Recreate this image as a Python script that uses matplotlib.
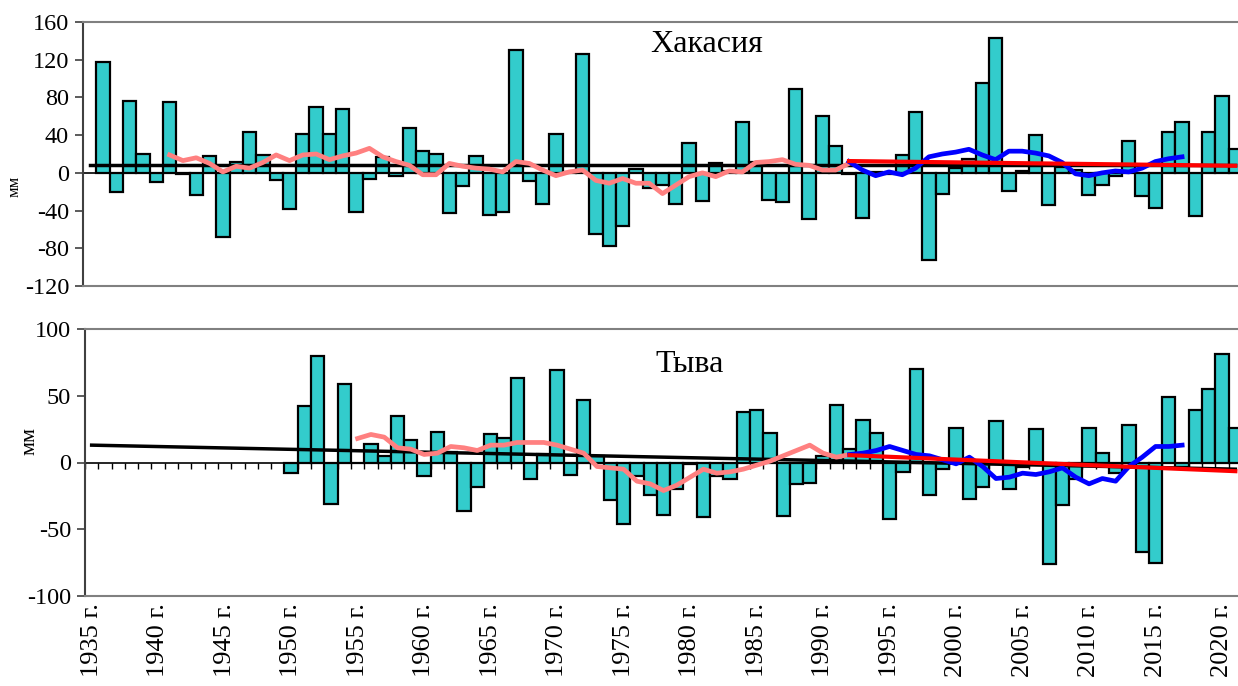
import numpy as np
import matplotlib
matplotlib.use("Agg")
from matplotlib import pyplot as plt

plt.rcParams['font.family'] = ['Liberation Serif', 'DejaVu Serif']
plt.rcParams['axes.unicode_minus'] = False

years = list(range(1935, 2022))

# precipitation anomalies, mm (Khakassia has no value for 1935)
khakasia = [np.nan,
            118, -20, 76, 20, -10, 75, -1, -24, 18, -68,
            11, 43, 19, -8, -38, 41, 70, 41, 68, -42,
            -7, 17, -3, 48, 23, 20, -43, -14, 18, -45,
            -42, 130, -9, -33, 41, 1, 126, -65, -78, -56,
            4, -16, -13, -33, 32, -30, 10, 2, 54, 12,
            -29, -31, 89, -49, 60, 28, -1, -48, 1, -1,
            19, 65, -92, -22, 5, 15, 95, 143, -19, 2,
            40, -34, 6, 3, -23, -13, -3, 34, -25, -37,
            43, 54, -46, 43, 81, 25]

# Tuva record starts in 1950
tuva = [np.nan] * 15 + [
    -8, 42, 80, -31, 59, 0, 14, 5, 35, 17,
    -10, 23, 8, -36, -18, 21, 18, 63, -12, 6,
    69, -9, 47, 5, -28, -46, -10, -24, -39, -20,
    -1, -41, -10, -12, 38, 39, 22, -40, -16, -15,
    5, 43, 10, 32, 22, -42, -7, 70, -24, -5,
    26, -27, -18, 31, -20, -3, 25, -76, -32, -12,
    26, 7, -8, 28, -67, -75, 49, -3, 39, 55,
    81, 26]

# moving averages for the first period (pink)
khak_ma_years = list(range(1941, 1993))
khak_ma = [19, 13, 16, 10, 1, 7, 5, 11, 19, 13,
           19, 20, 14, 18, 21, 26, 17, 12, 8, -2,
           -2, 10, 7, 5, 4, 1, 12, 10, 3, -3,
           1, 3, -8, -11, -6, -11, -11, -22, -13, -4,
           0, -4, 2, 1, 11, 12, 14, 9, 8, 3,
           3, 10]
tuva_ma_years = list(range(1955, 1993))
tuva_ma = [18, 21, 19, 11, 10, 6, 7, 12, 11, 9,
           13, 13, 15, 15, 15, 13, 10, 7, -3, -4,
           -5, -14, -16, -21, -17, -11, -5, -8, -7, -5,
           -2, 1, 5, 9, 13, 7, 4, 6]

# moving averages for the recent period (blue)
recent_years = list(range(1992, 2018))
khak_recent = [12, 3, -3, 1, -2, 5, 17, 20, 22, 25,
               19, 14, 23, 23, 21, 18, 11, -1, -3, 0,
               2, 1, 5, 12, 15, 17]
tuva_recent = [6, 7, 9, 12, 9, 6, 5, 2, -1, 4,
               -3, -12, -11, -8, -9, -7, -4, -11, -16, -12,
               -14, -3, 4, 12, 12, 13]

# linear trends: whole record (black) and since 1992 (red)
trend_all_years = [1935, 2021]
khak_trend_all = [8, 8]
tuva_trend_all = [13, -5]
trend_new_years = [1992, 2021]
khak_trend_new = [12.5, 7.5]
tuva_trend_new = [5.5, -6.5]

bar_color = '#33CCCC'
frame_color = '#808080'

fig = plt.figure(figsize=(12.38, 6.86), dpi=100)
ax1 = fig.add_axes([83 / 1238, 1 - 286 / 686, 1 - 83 / 1238, 264 / 686])
ax2 = fig.add_axes([85 / 1238, 1 - 596 / 686, 1 - 85 / 1238, 267 / 686])


def style_axis(ax, ylim, yticks):
    ax.set_ylim(*ylim)
    ax.set_yticks(yticks)
    ax.set_xlim(1934.5, 2021.2)
    for side in ['top', 'bottom']:
        ax.spines[side].set_color(frame_color)
        ax.spines[side].set_linewidth(1.5)
    ax.spines['left'].set_color('#404040')
    ax.spines['left'].set_linewidth(1.5)
    ax.spines['right'].set_visible(False)
    ax.tick_params(axis='y', direction='out', length=6, width=1.2,
                   color='#404040', labelsize=17.5, pad=4)


# top panel - Khakassia
ax1.bar(years, khakasia, width=1.0, color=bar_color, edgecolor='black',
        linewidth=1.6, zorder=2)
ax1.axhline(0, color='black', linewidth=1.2, zorder=1)
ax1.plot(trend_all_years, khak_trend_all, color='black', linewidth=2.5, zorder=3)
ax1.plot(khak_ma_years, khak_ma, color='#FF8080', linewidth=3.4, zorder=4)
ax1.plot(recent_years, khak_recent, color='#0000FF', linewidth=3.4, zorder=5)
ax1.plot(trend_new_years, khak_trend_new, color='#FF0000', linewidth=3.0, zorder=6)
style_axis(ax1, (-120, 160), range(-120, 161, 40))
ax1.set_xticks([])

# bottom panel - Tuva
ax2.bar(years, tuva, width=1.0, color=bar_color, edgecolor='black',
        linewidth=1.6, zorder=2)
ax2.axhline(0, color='black', linewidth=1.2, zorder=1)
boundaries = np.arange(years[0] - 0.5, years[-1] + 1)
ax2.vlines(boundaries, -5, 0, color='black', linewidth=1.0, zorder=1)
ax2.plot(trend_all_years, tuva_trend_all, color='black', linewidth=2.5, zorder=3)
ax2.plot(tuva_ma_years, tuva_ma, color='#FF8080', linewidth=3.4, zorder=4)
ax2.plot(recent_years, tuva_recent, color='#0000FF', linewidth=3.4, zorder=5)
ax2.plot(trend_new_years, tuva_trend_new, color='#FF0000', linewidth=3.0, zorder=6)
style_axis(ax2, (-100, 100), range(-100, 101, 50))

label_years = years[::5]
ax2.set_xticks(label_years)
ax2.set_xticklabels([f"{y} г." for y in label_years], rotation=90, fontsize=19)
ax2.tick_params(axis='x', length=0, pad=5)

# region names and units
fig.text(707 / 1238, 1 - 45 / 686, 'Хакасия', ha='center', va='center', fontsize=23)
fig.text(690 / 1238, 1 - 365 / 686, 'Тыва', ha='center', va='center', fontsize=23)
fig.text(15 / 1238, 1 - 186 / 686, 'мм', ha='center', va='center', rotation=90, fontsize=12)
fig.text(30 / 1238, 1 - 441 / 686, 'мм', ha='center', va='center', rotation=90, fontsize=16)

plt.savefig('out.png', dpi=100)
